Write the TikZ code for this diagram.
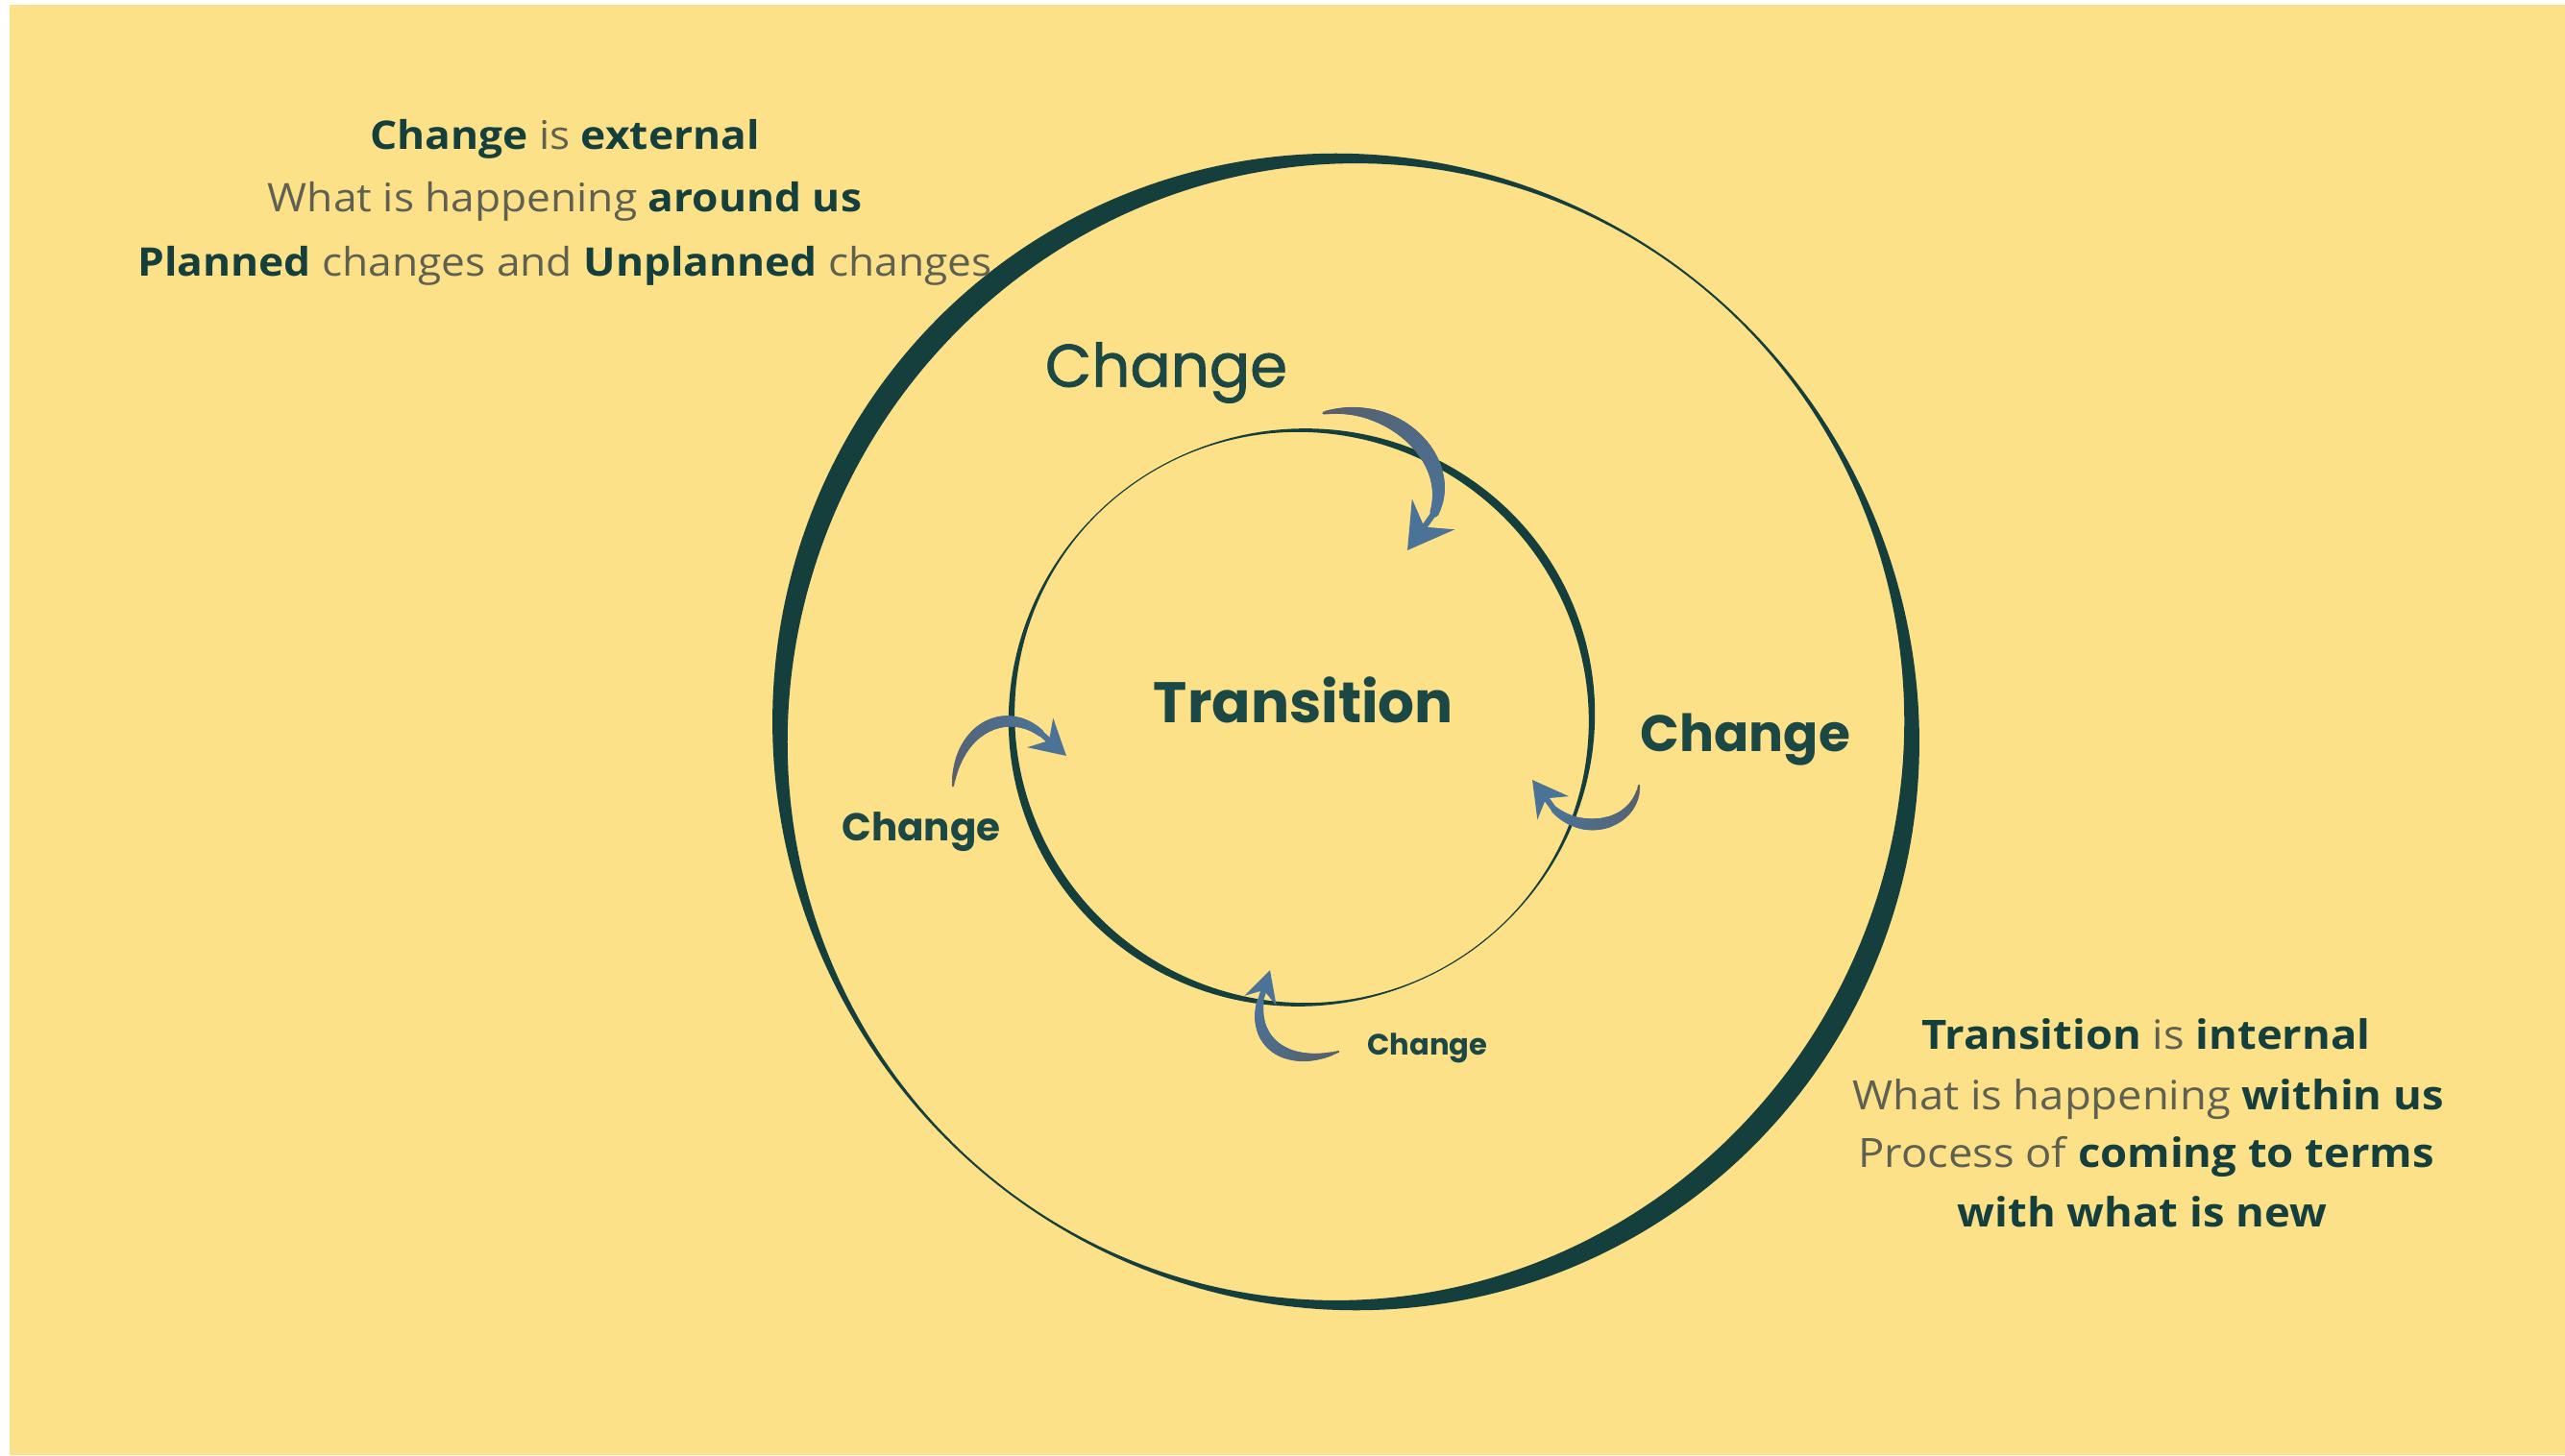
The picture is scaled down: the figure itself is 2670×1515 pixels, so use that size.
\documentclass[tikz,border=0pt]{standalone}
\usepackage{fontspec}
\setmainfont{Open Sans}[FakeStretch=1.08]
\newfontfamily\hand{Poppins}
\newfontfamily\handm{Poppins}[FakeBold=1.3]
\usetikzlibrary{arrows.meta,decorations.markings}
\definecolor{bg}{HTML}{FDE189}
\definecolor{ink}{HTML}{143F3D}
\definecolor{hwcol}{HTML}{1B4845}
\definecolor{greytxt}{HTML}{5E6152}
\definecolor{arrowgrey}{HTML}{575E68}
\definecolor{arrowblue}{HTML}{4B7398}
\newcommand\tb[1]{{\bfseries\color{ink}#1}}
\tikzset{
  ln/.style={anchor=base, inner sep=0pt, font=\fontsize{41}{48}\selectfont, text=greytxt},
  lnr/.style={ln, font=\fontsize{42}{48}\selectfont},
  hw/.style={inner sep=0pt, text=hwcol},
  taper/.style={decorate, decoration={markings,
    mark=between positions 0 and 1 step 1.5pt with {
      \pgfmathsetmacro\ff{\pgfkeysvalueof{/pgf/decoration/mark info/distance from start}/\pgfdecoratedpathlength}
      \pgfmathsetmacro\rr{#1*(0.22+0.78*sin(150*\ff))}
      \pgfmathtruncatemacro\pc{100*(1-\ff)}
      \fill[arrowgrey!\pc!arrowblue] (0,0) circle[radius=\rr pt];
    }}},
  headst/.style={draw=arrowblue, line width=6pt, shorten <=-2pt}
}
\begin{document}
\begin{tikzpicture}[x=1pt,y=-1pt,
  declare function={wo(\t)=max(1.5,13+11*cos(2*(\t-142)));
                    wi(\t)=max(1.2,5+4*cos(2*(\t-35)));}]
\useasboundingbox (0,0) rectangle (2670,1515);
\fill[white] (0,0) rectangle (2670,1515);
\fill[bg] (10,5) rectangle (2670,1515);

% outer ring
\fill[ink] plot[domain=0:360,samples=721] ({1401+(589+wo(\x)/2)*cos(\x)},{762-(597+wo(\x)/2)*sin(\x)})
  -- plot[domain=360:0,samples=721] ({1401+(589-wo(\x)/2)*cos(\x)},{762-(597-wo(\x)/2)*sin(\x)}) -- cycle;
% inner ring
\fill[ink] plot[domain=0:360,samples=541] ({1355+(302+wi(\x)/2)*cos(\x)},{747-(299+wi(\x)/2)*sin(\x)})
  -- plot[domain=360:0,samples=541] ({1355+(302-wi(\x)/2)*cos(\x)},{747-(299-wi(\x)/2)*sin(\x)}) -- cycle;

% texts top-left
\node[ln] (c1) at (588,155) {\tb{Change} is \tb{external}};
\node[ln] (c2) at (588,220) {What is happening \tb{around us}};
\node[ln] (c3) at (588,287) {\tb{Planned} changes and \tb{Unplanned} changes};
% texts bottom-right
\node[lnr] (t1) at (2234,1092) {\tb{Transition} is \tb{internal}};
\node[lnr] (t2) at (2236,1155) {What is happening \tb{within us}};
\node[lnr] (t3) at (2234,1215) {Process of \tb{coming to terms}};
\node[lnr] (t4) at (2230,1277) {\tb{with what is new}};

% handwritten labels
\node[hw] (chTop) at (1214,388) {\resizebox{252pt}{!}{\handm Change}};
\node[hw] (trans) at (1357,729) {\resizebox{312pt}{!}{\hand\bfseries Transition}};
\node[hw] (chRight) at (1817,770) {\resizebox{218pt}{!}{\hand\bfseries Change}};
\node[hw] (chLeft) at (959,866) {\resizebox{165pt}{!}{\hand\bfseries Change}};
\node[hw] (chBottom) at (1486,1091) {\resizebox{125pt}{!}{\hand\bfseries Change}};

% arrows
\coordinate (a1t) at (1378,430); \coordinate (a1e) at (1493,534); \coordinate (a1h) at (1465,573);
\coordinate (a2t) at (992,818);  \coordinate (a2e) at (1084,764); \coordinate (a2h) at (1110,787);
\coordinate (a3t) at (1706,818); \coordinate (a3e) at (1618,843); \coordinate (a3h) at (1595,812);
\coordinate (a4t) at (1393,1095);\coordinate (a4e) at (1312,1042);\coordinate (a4h) at (1322,1010);

\path[taper=8] (a1t) .. controls (1450,415) and (1515,478) .. (a1e);
\draw[headst, -{Stealth[length=46pt,width=54pt,inset=16pt]}] (a1e) -- (a1h);

\path[taper=6] (a2t) .. controls (998,755) and (1050,735) .. (a2e);
\draw[headst, -{Stealth[length=36pt,width=40pt,inset=12pt]}] (a2e) -- (a2h);

\path[taper=6] (a3t) .. controls (1702,858) and (1650,872) .. (a3e);
\draw[headst, -{Stealth[length=36pt,width=40pt,inset=12pt]}] (a3e) -- (a3h);

\path[taper=6] (a4t) .. controls (1345,1112) and (1303,1090) .. (a4e);
\draw[headst, -{Stealth[length=33pt,width=34pt,inset=11pt]}] (a4e) -- (a4h);
\end{tikzpicture}
\end{document}
